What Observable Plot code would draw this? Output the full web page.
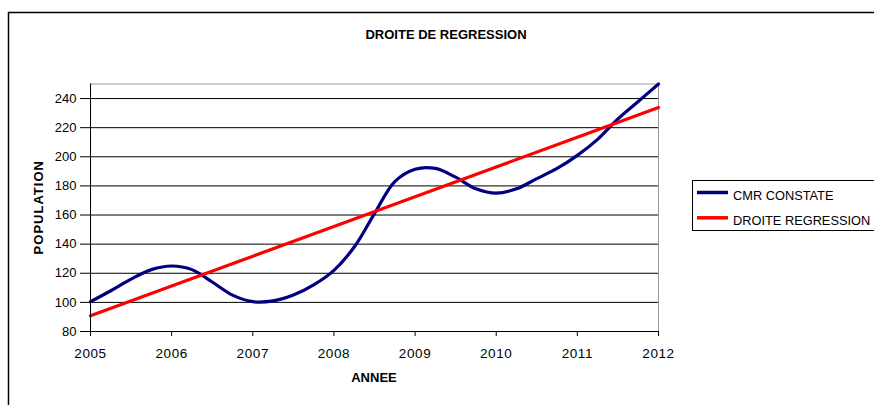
<!DOCTYPE html>
<html>
<head>
<meta charset="utf-8">
<script src="https://cdn.jsdelivr.net/npm/d3@7"></script>
<script src="https://cdn.jsdelivr.net/npm/@observablehq/plot@0.6"></script>
<style>
  html, body { margin: 0; padding: 0; background: #fff; }
  svg { display: block; }
  g[aria-label="x-axis tick label"] text { letter-spacing: 0.6px; }
</style>
</head>
<body>
<div id="chart"></div>
<script>
// Observed curve (CMR CONSTATE), read at quarter-year steps
const cmrYears = [2005, 2005.25, 2005.5, 2005.75, 2006, 2006.25, 2006.5, 2006.75,
                  2007, 2007.25, 2007.5, 2007.75, 2008, 2008.25, 2008.5, 2008.75,
                  2009, 2009.25, 2009.5, 2009.75, 2010, 2010.25, 2010.5, 2010.75,
                  2011, 2011.25, 2011.5, 2011.75, 2012];
const cmrValues = [100.5, 108, 116, 122.5, 125, 122.5, 114, 105,
                   100.5, 101, 105, 112, 122, 138, 161, 183,
                   191.5, 192, 186, 178, 175, 178, 185, 192,
                   201, 212, 226, 238, 250];

// Regression line (DROITE REGRESSION)
const regYears = [2005, 2006, 2007, 2008, 2009, 2010, 2011, 2012];
const regValues = [90.8, 111.2, 131.7, 152.1, 172.5, 193.0, 213.4, 233.8];

// Tick labels
const xTicks = [2005, 2006, 2007, 2008, 2009, 2010, 2011, 2012];
const yTicks = [80, 100, 120, 140, 160, 180, 200, 220, 240];
const gridValues = [100, 120, 140, 160, 180, 200, 220, 240];

const seriesNames = ["CMR CONSTATE", "DROITE REGRESSION"];
const seriesColors = ["#000080", "#ff0000"];

const cmrData = cmrYears.map((x, i) => ({x, y: cmrValues[i]}));
const regData = regYears.map((x, i) => ({x, y: regValues[i]}));

const W = 874, H = 405;
const mL = 90, mR = 216, mT = 83.5, mB = 74;
const font = "'Liberation Sans', Arial, sans-serif";

const chart = Plot.plot({
  width: W,
  height: H,
  marginLeft: mL,
  marginRight: mR,
  marginTop: mT,
  marginBottom: mB,
  style: {fontFamily: font, fontSize: "13px", color: "#000", background: "#fff", overflow: "visible"},
  x: {domain: [2005, 2012], axis: null},
  y: {domain: [80, 250], axis: null},
  marks: [
    Plot.ruleY(gridValues, {stroke: "#000", strokeWidth: 1}),
    Plot.ruleY([250], {stroke: "#9a9a9a", strokeWidth: 1}),
    Plot.ruleX([2012], {stroke: "#9a9a9a", strokeWidth: 1}),
    Plot.line(cmrData, {x: "x", y: "y", stroke: seriesColors[0], strokeWidth: 3.2, curve: "catmull-rom"}),
    Plot.line(regData, {x: "x", y: "y", stroke: seriesColors[1], strokeWidth: 3.2}),
    Plot.ruleX([2005], {stroke: "#000", strokeWidth: 1}),
    Plot.ruleY([80], {stroke: "#000", strokeWidth: 1}),
    Plot.axisY({ticks: yTicks, tickSize: 10, tickPadding: 4, fontSize: 13, label: null, anchor: "left", stroke: "#000"}),
    Plot.axisX({ticks: xTicks, tickFormat: "d", tickSize: 5, tickPadding: 12, fontSize: 13.5, label: null, anchor: "bottom", stroke: "#000"})
  ]
});

document.getElementById("chart").appendChild(chart);

const svg = d3.select(chart);

// Outer chart-area frame (extends past right and bottom edges)
svg.insert("rect", ":first-child")
  .attr("x", 8.5).attr("y", 12.5)
  .attr("width", W + 20).attr("height", H + 20)
  .attr("fill", "none").attr("stroke", "#000").attr("stroke-width", 1.5);

// Title
svg.append("text")
  .attr("x", 446).attr("y", 39)
  .attr("text-anchor", "middle")
  .attr("font-family", font).attr("font-size", 13).attr("font-weight", "bold")
  .text("DROITE DE REGRESSION");

// Axis titles
svg.append("text")
  .attr("x", (mL + (W - mR)) / 2).attr("y", 381.5)
  .attr("text-anchor", "middle")
  .attr("font-family", font).attr("font-size", 13).attr("font-weight", "bold")
  .text("ANNEE");

svg.append("text")
  .attr("transform", `translate(42.5, ${(mT + (H - mB)) / 2}) rotate(-90)`)
  .attr("text-anchor", "middle")
  .attr("font-family", font).attr("font-size", 13).attr("font-weight", "bold")
  .attr("letter-spacing", "1px")
  .text("POPULATION");

// Legend
const lg = svg.append("g");
lg.append("rect")
  .attr("x", 692.5).attr("y", 180.5).attr("width", 200).attr("height", 50)
  .attr("fill", "#fff").attr("stroke", "#000").attr("stroke-width", 1);
seriesNames.forEach((name, i) => {
  const cy = 192.5 + i * 25.3;
  lg.append("line")
    .attr("x1", 697).attr("x2", 728).attr("y1", cy).attr("y2", cy)
    .attr("stroke", seriesColors[i]).attr("stroke-width", 3.5);
  lg.append("text")
    .attr("x", 733).attr("y", cy + 7)
    .attr("text-anchor", "start")
    .attr("font-family", font).attr("font-size", 12.8)
    .text(name);
});
</script>
</body>
</html>
